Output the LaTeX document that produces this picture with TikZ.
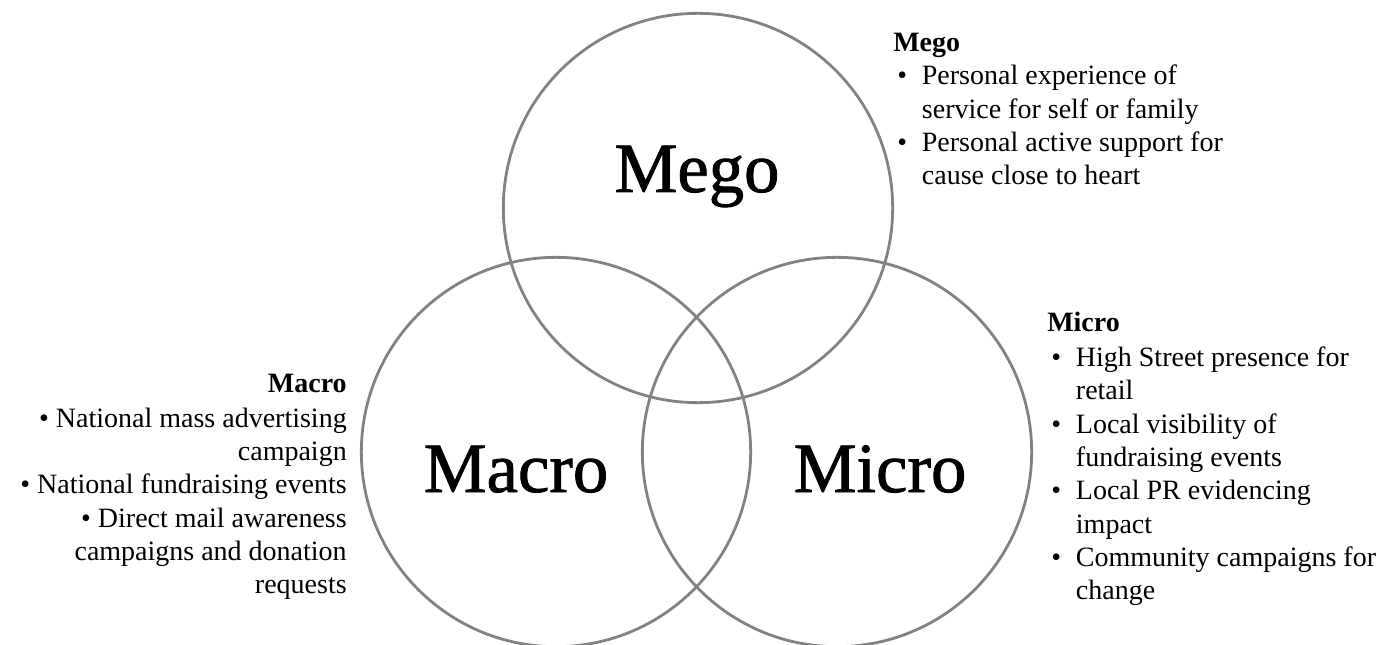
\documentclass[tikz,border=0pt]{standalone}
\usepackage{fontspec}
\setmainfont{Liberation Serif}
\newfontfamily\heavyserif[FakeBold=1.2]{Liberation Serif}
\usetikzlibrary{positioning}
\definecolor{ringgray}{RGB}{130,130,130}
\newcommand{\bul}{\makebox[21.5pt][l]{\hspace{3pt}\textbullet}}
\newcommand{\cont}{\hspace*{21.5pt}}

\begin{document}
\begin{tikzpicture}[x=0.75pt,y=-0.75pt,
  ring/.style={draw=ringgray,line width=2.1pt,circle,minimum size=292pt,inner sep=0pt},
  big/.style={font=\heavyserif\fontsize{53}{60}\selectfont,inner sep=0pt},
  note/.style={font=\fontsize{21}{25}\selectfont,inner sep=0pt}]
\useasboundingbox (0,0) rectangle (1380,645);
% three overlapping rings
\node[ring] (mego) at (698,208) {};
\node[ring] (macro) at (556,452) {};
\node[ring] (micro) at (837,452) {};
% names inside the rings
\node[big,anchor=base] (megoname) at (697,192) {Mego};
\node[big,anchor=base] (macroname) at (516,492) {Macro};
\node[big,anchor=base] (microname) at (880,492) {Micro};
% notes beside each ring
\node[note,align=left,anchor=north west] (megonote) at (893,33)
  {\textbf{Mego}\\
   \bul Personal experience of\\
   \cont service for self or family\\
   \bul Personal active support for\\
   \cont cause close to heart};
\node[note,align=right,anchor=north east] (macronote) at (347,374)
  {\textbf{Macro}\\[1pt]
   \textbullet{} National mass advertising\\
   campaign\\
   \textbullet{} National fundraising events\\
   \textbullet{} Direct mail awareness\\
   campaigns and donation\\
   requests};
\node[note,align=left,anchor=north west] (micronote) at (1047,312)
  {\textbf{Micro}\\[1pt]
   \bul High Street presence for\\
   \cont retail\\
   \bul Local visibility of\\
   \cont fundraising events\\
   \bul Local PR evidencing\\
   \cont impact\\
   \bul Community campaigns for\\
   \cont change};
\end{tikzpicture}
\end{document}
